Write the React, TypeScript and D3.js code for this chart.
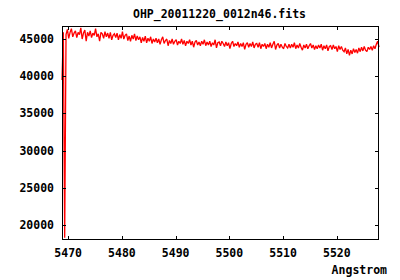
import React, { useEffect, useRef } from "react";
import * as d3 from "d3";

const title = "OHP_20011220_0012n46.fits";
const xLabel = "Angstrom";
const xTicks = [5470, 5480, 5490, 5500, 5510, 5520];
const yTicks = [20000, 25000, 30000, 35000, 40000, 45000];
const waveStart = 5468.85;
const waveStep = 0.25;
const flux = [
  39500, 45900, 18300, 45600, 46300, 45100, 45900, 46400, 45300, 45800,
  46100, 45200, 45900, 45600, 46500, 45000, 45800, 46200, 44700, 45900,
  45400, 46100, 45200, 45800, 45500, 46400, 45300, 45700, 44700, 45900,
  45700, 45100, 46000, 45300, 45800, 45100, 45900, 44900, 45500, 45700,
  45200, 45800, 44900, 45600, 45100, 46000, 45000, 45500, 45700, 44800,
  45400, 44700, 45500, 45000, 45700, 44800, 45400, 44900, 45300, 44500,
  45200, 44700, 45400, 44500, 45100, 44700, 45300, 44400, 45000, 44600,
  45100, 44500, 45000, 44300, 44900, 45300, 44400, 44800, 45000, 44100,
  44800, 44400, 45000, 44300, 44700, 44900, 44200, 44700, 44400, 45000,
  44300, 44800, 44100, 44700, 44400, 44900, 44200, 44700, 43900, 44600,
  44800, 44200, 44600, 44100, 44700, 44300, 44900, 44100, 44600, 44200,
  44700, 44000, 44500, 44200, 44900, 43800, 44500, 44600, 44100, 44700,
  44400, 44000, 44600, 44100, 44500, 43700, 44400, 44700, 44000, 44400,
  44100, 44600, 43900, 44400, 44000, 44500, 43600, 44300, 44500, 43900,
  44400, 44000, 44600, 43800, 44300, 44400, 43900, 44500, 43700, 44300,
  44000, 44400, 43700, 44300, 43900, 44500, 43800, 44300, 44700, 43600,
  44200, 44400, 43800, 44300, 43900, 43700, 44400, 44000, 43800, 44300,
  43800, 44300, 43900, 44500, 43700, 44200, 43800, 44400, 43900, 43500,
  44200, 43800, 44300, 43700, 44100, 44400, 43800, 44200, 43600, 44100,
  43700, 44200, 43800, 44300, 43500, 44100, 43700, 44200, 43400, 44000,
  44100, 43600, 44200, 43700, 44000, 43300, 44100, 43600, 44000, 43500,
  43300, 43800, 43000, 43600, 42800, 43500, 43000, 43700, 43200, 43600,
  43100, 43800, 43300, 43900, 43400, 44000, 43500, 43300, 43900, 43600,
  44000, 43500, 44100, 43700, 44300, 44700, 43900,
];

export default function App() {
  const ref = useRef<SVGSVGElement>(null);
  useEffect(() => {
    const svg = d3.select(ref.current);
    svg.selectAll("*").remove();
    const L = 62, R = 379, T = 26, B = 240;
    const x = d3.scaleLinear().domain([5468.85, 5527.85]).range([L, R]);
    const y = d3.scaleLinear().domain([18000, 46750]).range([B, T]);
    const font = "'DejaVu Sans Mono', monospace";
    const data = flux.map((v, i) => [waveStart + i * waveStep, v] as [number, number]);

    svg.append("path")
      .attr("d", d3.line<[number, number]>().x(d => x(d[0])).y(d => y(d[1]))(data) || "")
      .attr("fill", "none").attr("stroke", "#ff0000").attr("stroke-width", 1.3)
      .attr("stroke-linejoin", "miter").attr("stroke-miterlimit", 2);

    const g = svg.append("g").attr("stroke", "#000").attr("stroke-width", 1).attr("shape-rendering", "crispEdges");
    xTicks.forEach(t => {
      const px = Math.round(x(t)) + 0.5;
      g.append("line").attr("x1", px).attr("x2", px).attr("y1", B).attr("y2", B - 4);
      g.append("line").attr("x1", px).attr("x2", px).attr("y1", T).attr("y2", T + 4);
    });
    yTicks.forEach(t => {
      const py = Math.round(y(t)) + 0.5;
      g.append("line").attr("x1", L).attr("x2", L + 4).attr("y1", py).attr("y2", py);
      g.append("line").attr("x1", R).attr("x2", R - 4).attr("y1", py).attr("y2", py);
    });
    svg.append("rect").attr("x", L + 0.5).attr("y", T + 0.5).attr("width", R - L - 1).attr("height", B - T - 1)
      .attr("fill", "none").attr("stroke", "#000").attr("stroke-width", 1).attr("shape-rendering", "crispEdges");

    const txt = svg.append("g").attr("font-family", font).attr("font-size", 11.5).attr("font-weight", "bold").attr("fill", "#000");
    yTicks.forEach(t => {
      txt.append("text").attr("x", 54).attr("y", y(t)).attr("dy", "0.35em").attr("text-anchor", "end").text(String(t));
    });
    xTicks.forEach(t => {
      txt.append("text").attr("x", x(t)).attr("y", 257).attr("text-anchor", "middle").text(String(t));
    });
    txt.append("text").attr("x", 219.5).attr("y", 18).attr("text-anchor", "middle").text(title);
    txt.append("text").attr("x", 387).attr("y", 274).attr("text-anchor", "end").text(xLabel);
  }, []);
  return (
    <svg ref={ref} width={400} height={280}
      style={{ position: "absolute", left: 0, top: 0, background: "#fff" }} />
  );
}
